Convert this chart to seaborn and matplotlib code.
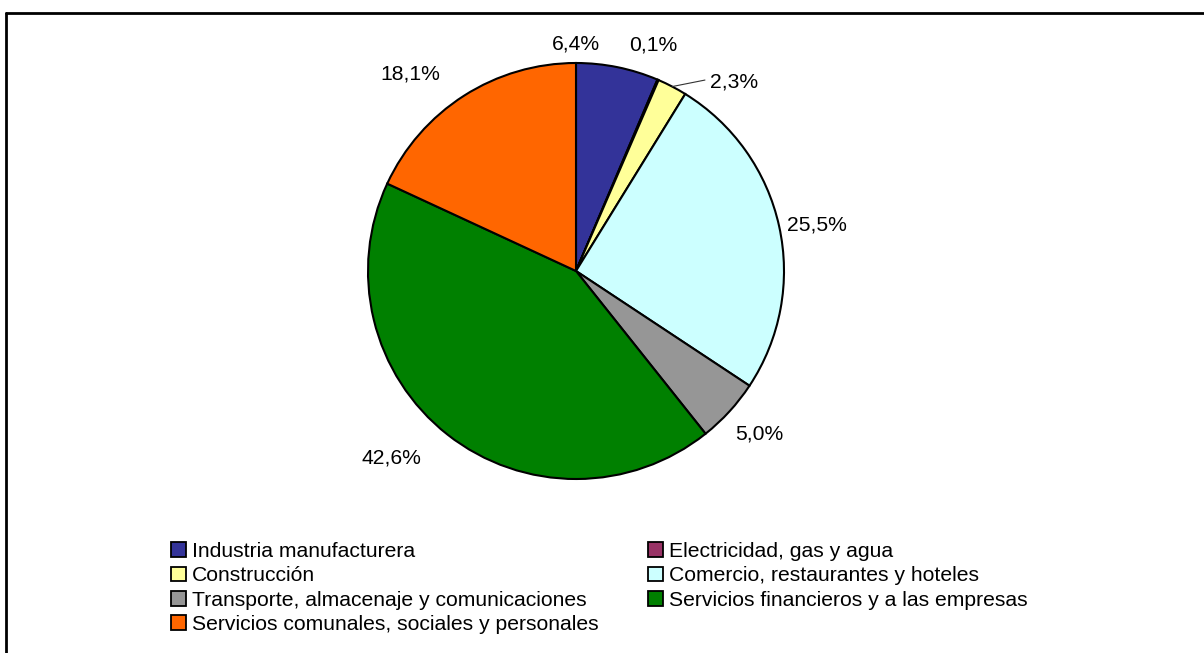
#!/usr/bin/env python3
"""
Pie chart: share of each economic sector (Excel-style)
"""
import numpy as np
import matplotlib
matplotlib.use('Agg')
import matplotlib.pyplot as plt
from matplotlib.patches import Patch
from matplotlib.lines import Line2D
import seaborn as sns

sectors = [
    'Industria manufacturera',
    'Electricidad, gas y agua',
    'Construcción',
    'Comercio, restaurantes y hoteles',
    'Transporte, almacenaje y comunicaciones',
    'Servicios financieros y a las empresas',
    'Servicios comunales, sociales y personales',
]
shares = [6.4, 0.1, 2.3, 25.5, 5.0, 42.6, 18.1]
pct_labels = ['6,4%', '0,1%', '2,3%', '25,5%', '5,0%', '42,6%', '18,1%']
colors = ['#333399', '#993366', '#FFFF99', '#CCFFFF', '#969696', '#008000', '#FF6600']

# where Excel put each percentage label (pie radius = 1)
label_pos = [(0.0, 1.09), (0.37, 1.087), (0.76, 0.909), (1.16, 0.221),
             (0.88, -0.784), (-0.889, -0.899), (-0.798, 0.947)]

sns.set_theme(style='white')
plt.rcParams['font.family'] = ['Liberation Sans', 'DejaVu Sans']
plt.rcParams['text.color'] = 'black'

W, H = 1204, 653
fig = plt.figure(figsize=(W / 100, H / 100), dpi=100)
fig.patch.set_facecolor('white')

# pie axes: centre (576, 271) px, radius 208 px
R = 208
lim = 1.3
cx, cy = 576, H - 271
ax = fig.add_axes([(cx - lim * R) / W, (cy - lim * R) / H, 2 * lim * R / W, 2 * lim * R / H])
ax.axis('off')

wedges, _ = ax.pie(shares, colors=colors, startangle=90, counterclock=False,
                   wedgeprops=dict(edgecolor='black', linewidth=1.5),
                   radius=1, frame=False)
ax.set_xlim(-lim, lim)
ax.set_ylim(-lim, lim)
ax.set_aspect('equal')

fs = 15.2
for w, txt, (lx, ly) in zip(wedges, pct_labels, label_pos):
    ax.text(lx, ly, txt, ha='center', va='center', fontsize=fs, color='black')

# leader line for the small Construcción slice
w = wedges[2]
mid = np.deg2rad((w.theta1 + w.theta2) / 2)
ax.plot([np.cos(mid), 0.62], [np.sin(mid), 0.918], color='#333333', lw=0.8)

# legend, filled row by row like Excel
handles = [Patch(facecolor=c, edgecolor='black', linewidth=1.3) for c in colors]
order = [0, 2, 4, 6, 1, 3, 5]
fig.legend([handles[i] for i in order], [sectors[i] for i in order],
           loc='upper left', bbox_to_anchor=(171 / W, 1 - 542 / H),
           ncol=2, frameon=False, fontsize=fs, borderpad=0,
           handlelength=0.7, handleheight=0.7, handletextpad=0.3,
           columnspacing=2.35, labelspacing=0.25, borderaxespad=0,
           labelcolor='black')

# chart-area border (top and left edges visible)
fig.add_artist(Line2D([6 / W, 1.0], [1 - 13 / H, 1 - 13 / H], color='black', lw=2,
                      transform=fig.transFigure))
fig.add_artist(Line2D([6 / W, 6 / W], [0.0, 1 - 13 / H], color='black', lw=2,
                      transform=fig.transFigure))

fig.savefig('out.png', dpi=100, facecolor='white')
